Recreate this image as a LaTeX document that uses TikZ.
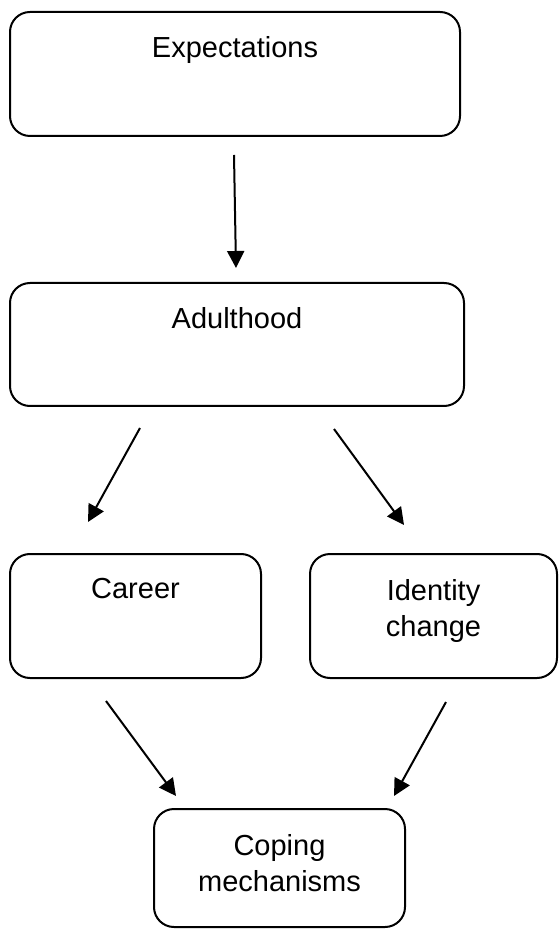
\documentclass[tikz,border=0pt]{standalone}
\usepackage{fontspec}
\setmainfont{Liberation Sans}
\usepackage{tikz}
\usetikzlibrary{positioning, arrows.meta, calc}

\begin{document}
\begin{tikzpicture}[x=0.5pt, y=0.5pt, >={Triangle[length=8.5pt, width=8.5pt]},
    box/.style={draw, line width=1pt, rounded corners=10pt, inner sep=0pt},
    lbl/.style={inner sep=0pt, align=center, font=\fontsize{14.5pt}{18pt}\selectfont},
    link/.style={->, line width=1pt}]
    \useasboundingbox (0,0) rectangle (558,-929);
    % boxes
    \node[box, minimum width=225pt, minimum height=62pt] (exp) at (235,-74) {};
    \node[box, minimum width=227pt, minimum height=61.5pt] (adult) at (237,-344.5) {};
    \node[box, minimum width=125.5pt, minimum height=62pt] (career) at (135.5,-616) {};
    \node[box, minimum width=123.5pt, minimum height=62pt] (ident) at (433.5,-616) {};
    \node[box, minimum width=125.5pt, minimum height=59pt] (coping) at (279.5,-868) {};
    % texts
    \node[lbl, below=12.5pt of exp.north] (exptext) {Expectations};
    \node[lbl, below=12.5pt of adult.north] (adulttext) {Adulthood};
    \node[lbl, below=12.5pt of career.north] (careertext) {Career};
    \node[lbl, below=13pt of ident.north] (identtext) {Identity\\change};
    \node[lbl, below=13pt of coping.north] (copingtext) {Coping\\mechanisms};
    % arrow ends
    \coordinate (expout) at ($(exp.south)+(-1,-18)$);
    \coordinate (adultin) at ($(adult.north)+(-1,14)$);
    \coordinate (adultoutl) at ($(adult.south)+(-97,-21)$);
    \coordinate (adultoutr) at ($(adult.south)+(97,-22)$);
    \coordinate (careerin) at ($(career.north)+(-47.5,31)$);
    \coordinate (identin) at ($(ident.north)+(-29.5,28)$);
    \coordinate (careerout) at ($(career.south)+(-29.5,-22)$);
    \coordinate (identout) at ($(ident.south)+(12.5,-23)$);
    \coordinate (copinginl) at ($(coping.north)+(-103.5,12)$);
    \coordinate (copinginr) at ($(coping.north)+(114.5,12)$);
    % arrows
    \draw[link] (expout) -- (adultin);
    \draw[link] (adultoutl) -- (careerin);
    \draw[link] (adultoutr) -- (identin);
    \draw[link] (careerout) -- (copinginl);
    \draw[link] (identout) -- (copinginr);
\end{tikzpicture}
\end{document}
